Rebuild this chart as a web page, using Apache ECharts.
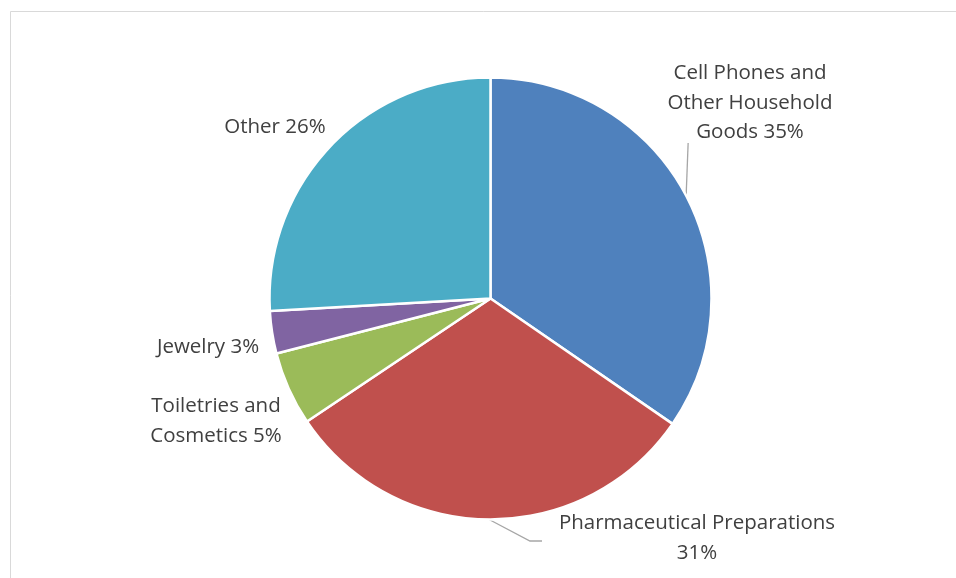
<!DOCTYPE html>
<html>
<head>
<meta charset="utf-8">
<script src="https://cdn.jsdelivr.net/npm/echarts@6/dist/echarts.min.js"></script>
<style>
html,body{margin:0;padding:0;background:#fff;}
#chart{width:956px;height:578px;}
</style>
</head>
<body>
<div id="chart"></div>
<script>
// Data
const categories = ['Cell Phones and\nOther Household\nGoods', 'Pharmaceutical Preparations', 'Toiletries and\nCosmetics', 'Jewelry', 'Other'];
const shares = [34.6, 31.0, 5.4, 3.1, 25.9];
const labelPercents = ['35%', '31%', '5%', '3%', '26%'];
const colors = ['#4F81BD', '#C0504D', '#9BBB59', '#8064A2', '#4BACC6'];

const chart = echarts.init(document.getElementById('chart'), null, {renderer: 'canvas'});

const labelSpots = [
  {x: 750, y: 103},
  {x: 697, y: 538},
  {x: 216, y: 421},
  {x: 208, y: 347},
  {x: 275, y: 127}
];

const data = categories.map((c, i) => ({
  name: c,
  value: shares[i],
  itemStyle: {color: colors[i]},
  labelLine: {show: i <= 1}
}));

const option = {
  animation: false,
  backgroundColor: '#ffffff',
  graphic: [{
    type: 'rect',
    shape: {x: 10.5, y: 11.5, width: 1200, height: 1200},
    style: {fill: 'none', stroke: '#D9D9D9', lineWidth: 1},
    silent: true
  }],
  series: [{
    type: 'pie',
    center: [490.5, 298.5],
    radius: [0, 221],
    startAngle: 90,
    clockwise: true,
    data: data,
    itemStyle: {borderColor: '#ffffff', borderWidth: 2.5},
    label: {
      show: true,
      position: 'outside',
      formatter: p => {
        const sep = p.dataIndex === 1 ? '\n' : ' ';
        return p.name + sep + labelPercents[p.dataIndex];
      },
      fontFamily: 'Open Sans',
      fontSize: 20.5,
      lineHeight: 29.5,
      color: '#404040',
      align: 'center'
    },
    labelLine: {
      show: true,
      lineStyle: {color: '#A6A6A6', width: 1.3}
    },
    labelLayout: function (params) {
      const i = params.dataIndex;
      const s = labelSpots[i];
      const res = {x: s.x, y: s.y, align: 'center', verticalAlign: 'middle'};
      const pts = params.labelLinePoints;
      if (pts && i === 0) {
        res.labelLinePoints = [pts[0], [pts[0][0] + 2, 143], [pts[0][0] + 2, 143]];
      } else if (pts && i === 1) {
        res.labelLinePoints = [pts[0], [530, 541], [542, 541]];
      }
      return res;
    }
  }]
};
chart.setOption(option);
</script>
</body>
</html>
